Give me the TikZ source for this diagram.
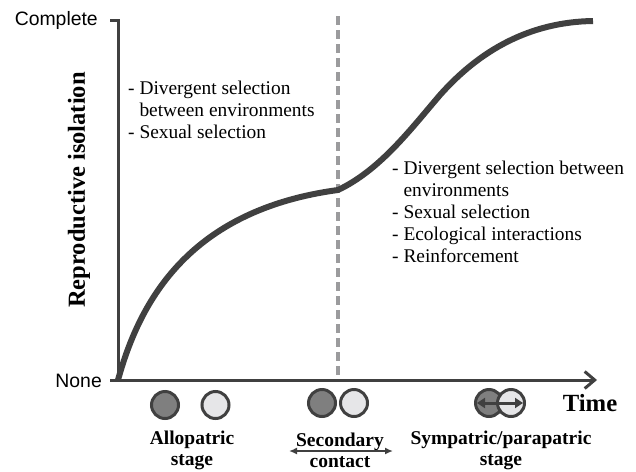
\documentclass[tikz,border=0pt]{standalone}
\usepackage{fontspec}
\setmainfont{Liberation Serif}
\setsansfont{Liberation Sans}
\usepackage{tikz}
\usepackage{xcolor}
\usetikzlibrary{arrows.meta}
\definecolor{axisgray}{HTML}{404040}
\definecolor{dashgray}{HTML}{9B9B9D}
\definecolor{darkfill}{HTML}{7F7F7F}
\definecolor{lightfill}{HTML}{E6E6E8}

\begin{document}
\begin{tikzpicture}[x=1pt,y=-1pt]
			\tikzstyle{axis}=[line width=3pt,draw=axisgray]
			\tikzstyle{curve}=[line width=6pt,draw=axisgray]
			\tikzstyle{divider}=[line width=4.5pt,draw=dashgray,dash pattern=on 9pt off 5pt]
			\tikzstyle{tick}=[font=\sffamily\fontsize{19.4}{22}\selectfont,inner sep=0pt,anchor=east]
			\tikzstyle{notes}=[font=\fontsize{19.4}{22}\selectfont,inner sep=0pt,anchor=north west,align=left]
			\tikzstyle{stage}=[font=\bfseries\fontsize{19.5}{21}\selectfont,inner sep=0pt,align=center]
			\tikzstyle{popA}=[circle,minimum size=27pt,line width=3pt,draw=axisgray,fill=darkfill]
			\tikzstyle{popB}=[circle,minimum size=27pt,line width=3pt,draw=axisgray,fill=lightfill]
			
			\useasboundingbox (0,0) rectangle (636,471);
			
			% axes
			\coordinate (ctick) at (110,20);
			\coordinate (ytop) at (118,20);
			\coordinate (origin) at (118,380);
			\coordinate (ntick) at (110,380);
			\coordinate (xend) at (597,380);
			\coordinate (dtop) at (338,16);
			\coordinate (dbot) at (338,378);
			
			\draw[divider] (dtop) -- (dbot);
			\draw[axis] (ctick) -- (ytop) -- (origin);
			\draw[axis,-{Straight Barb[length=10pt,width=17pt]}] (ntick) -- (xend);
			
			\node[tick] (complete) at (98,20) {Complete};
			\node[tick] (none) at (102,381) {None};
			\node[font=\bfseries\fontsize{24.5}{26}\selectfont,rotate=90,inner sep=0pt] (ylabel) at (79,190) {Reproductive isolation};
			\node[font=\bfseries\fontsize{24.7}{26}\selectfont,inner sep=0pt] (time) at (590,403) {Time};
			
			% isolation curve
			\draw[curve] (origin) .. controls (140,300) and (190,210) .. (338,190)
				.. controls (380,170) and (410,130) .. (440,95)
				.. controls (480,50) and (530,22) .. (593,21);
			
			\node[notes] (lefttext) at (128,81) {- Divergent selection\\\phantom{- }between environments\\- Sexual selection};
			\node[notes] (righttext) at (392,161) {- Divergent selection between\\\phantom{- }environments\\- Sexual selection\\- Ecological interactions\\- Reinforcement};
			
			% populations
			\node[popA] (allo1) at (165,405) {};
			\node[popB] (allo2) at (215.5,405) {};
			\node[popA] (sec1) at (322,403) {};
			\node[popB] (sec2) at (354,403) {};
			\node[popA] (sym1) at (489,403) {};
			\node[popB] (sym2) at (511,403) {};
			\coordinate (syml) at (477,403);
			\coordinate (symr) at (523,403);
			\draw[line width=3pt,axisgray,{Triangle[length=8pt,width=10pt]}-{Triangle[length=8pt,width=10pt]}] (syml) -- (symr);
			
			\node[stage] (allolabel) at (192,450) {Allopatric\\stage};
			\node[stage] (seclabel) at (340,450) {Secondary\\contact};
			\node[stage] (symlabel) at (501,450) {Sympatric/parapatric\\stage};
			\coordinate (secl) at (289,451);
			\coordinate (secr) at (393,451);
			\draw[line width=2pt,axisgray,{Latex[length=8pt,width=7pt]}-{Latex[length=8pt,width=7pt]}] (secl) -- (secr);
\end{tikzpicture}
\end{document}
